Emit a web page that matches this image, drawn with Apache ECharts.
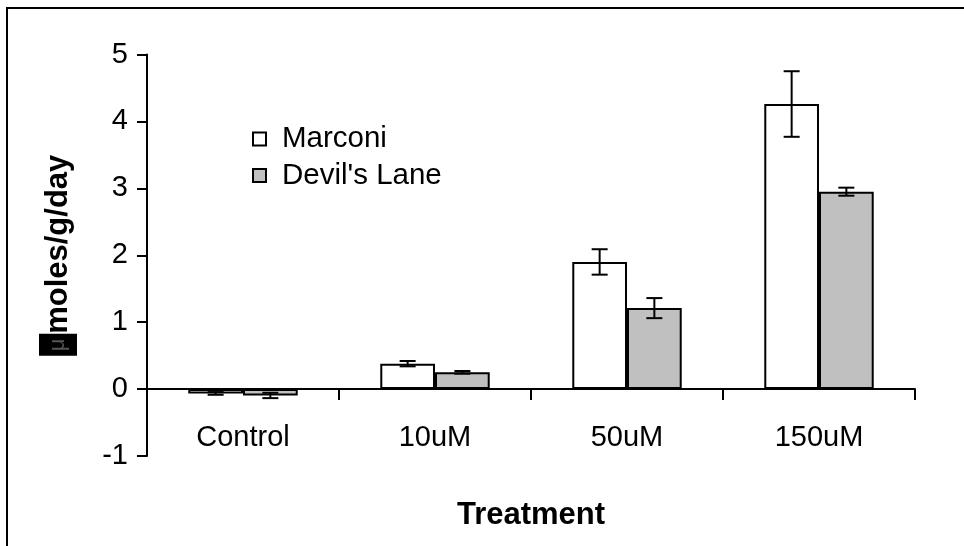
<!DOCTYPE html>
<html>
<head>
<meta charset="utf-8">
<script src="https://cdn.jsdelivr.net/npm/echarts@6/dist/echarts.min.js"></script>
<style>
  html, body { margin: 0; padding: 0; background: #fff; }
  #chart { width: 964px; height: 546px; }
</style>
</head>
<body>
<div id="chart"></div>
<script>
// Treatment groups along the x axis
const categories = ['Control', '10uM', '50uM', '150uM'];

// Mean rates (µmoles/g/day) and their standard errors
const marconi = [-0.065, 0.38, 1.90, 4.26];
const marconiErr = [0.02, 0.04, 0.19, 0.49];
const devilsLane = [-0.095, 0.25, 1.21, 2.95];
const devilsLaneErr = [0.04, 0.02, 0.15, 0.06];

// Y axis tick range
const yMin = -1, yMax = 5, yStep = 1;

const FONT = '"Liberation Sans", Arial, sans-serif';
const GAP = 0.43;

function errorSeries(values, errs, side) {
  return {
    type: 'custom',
    silent: true,
    z: 5,
    data: values.map((v, i) => [i, v, errs[i]]),
    renderItem: function (params, api) {
      const idx = api.value(0);
      const v = api.value(1);
      const e = api.value(2);
      const band = api.size([1, 0])[0];
      const barW = band * (1 - GAP) / 2;
      const hi = api.coord([idx, v + e]);
      const lo = api.coord([idx, v - e]);
      const x = hi[0] + side * barW / 2;
      const cap = 8;
      const st = { stroke: '#000', lineWidth: 2 };
      return {
        type: 'group',
        children: [
          { type: 'line', shape: { x1: x, y1: hi[1], x2: x, y2: lo[1] }, style: st },
          { type: 'line', shape: { x1: x - cap, y1: hi[1], x2: x + cap, y2: hi[1] }, style: st },
          { type: 'line', shape: { x1: x - cap, y1: lo[1], x2: x + cap, y2: lo[1] }, style: st }
        ]
      };
    }
  };
}

const chart = echarts.init(document.getElementById('chart'), null, { renderer: 'canvas' });
chart.setOption({
  animation: false,
  backgroundColor: '#fff',
  textStyle: { fontFamily: FONT },
  grid: { left: 147, right: 49, top: 54.5, bottom: 90, containLabel: false, outerBoundsMode: 'none' },
  legend: {
    orient: 'vertical',
    left: 247,
    top: 119,
    itemWidth: 13,
    itemHeight: 13,
    itemGap: 6.5,
    icon: 'rect',
    data: ['Marconi', "Devil's Lane"],
    textStyle: { fontFamily: FONT, fontSize: 29.5, color: '#000', lineHeight: 20, padding: [0, 0, 0, 11] }
  },
  xAxis: {
    type: 'category',
    data: categories,
    name: 'Treatment',
    nameLocation: 'middle',
    nameGap: 44,
    nameTextStyle: { fontFamily: FONT, fontSize: 31, fontWeight: 'bold', color: '#000' },
    axisLine: { onZero: true, lineStyle: { color: '#000', width: 2 } },
    axisTick: { show: true, length: 11, alignWithLabel: false, lineStyle: { color: '#000', width: 2 } },
    axisLabel: { fontFamily: FONT, fontSize: 29, color: '#000', margin: -33 },
    splitLine: { show: false }
  },
  yAxis: {
    type: 'value',
    min: yMin,
    max: yMax,
    interval: yStep,
    name: '{mu|μ}moles/g/day',
    nameLocation: 'middle',
    nameGap: 70,
    nameRotate: 90,
    nameTextStyle: {
      fontFamily: FONT, fontSize: 31, fontWeight: 'bold', color: '#000',
      rich: {
        mu: {
          fontFamily: FONT, fontSize: 22, fontWeight: 'normal', color: '#555',
          backgroundColor: '#000', padding: [8, 0, 8, 0], width: 22, align: 'center'
        }
      }
    },
    axisLine: { show: true, lineStyle: { color: '#000', width: 2 } },
    axisTick: { show: true, length: 10, lineStyle: { color: '#000', width: 2 } },
    axisLabel: { fontFamily: FONT, fontSize: 29, color: '#000', margin: 19 },
    splitLine: { show: false }
  },
  series: [
    {
      name: 'Marconi',
      type: 'bar',
      data: marconi,
      barGap: '0%',
      barCategoryGap: (GAP * 100) + '%',
      itemStyle: { color: '#fff', borderColor: '#000', borderWidth: 2 }
    },
    {
      name: "Devil's Lane",
      type: 'bar',
      data: devilsLane,
      barGap: '0%',
      barCategoryGap: (GAP * 100) + '%',
      itemStyle: { color: '#c0c0c0', borderColor: '#000', borderWidth: 2 }
    },
    errorSeries(marconi, marconiErr, -1),
    errorSeries(devilsLane, devilsLaneErr, 1)
  ],
  graphic: [
    {
      type: 'rect',
      shape: { x: 7, y: 8, width: 1100, height: 1100 },
      style: { fill: 'none', stroke: '#000', lineWidth: 2 },
      silent: true
    }
  ]
});
</script>
</body>
</html>
